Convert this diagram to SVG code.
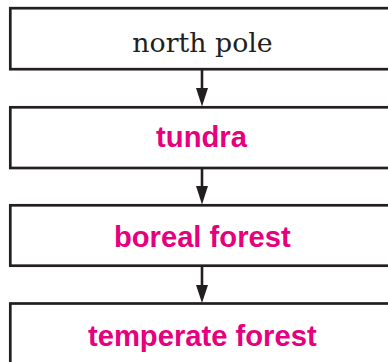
<svg xmlns="http://www.w3.org/2000/svg" width="388" height="362" viewBox="0 0 388 362">
  <defs>
    <style>
      .box { fill: #ffffff; stroke: #231f20; stroke-width: 2.7; }
      .conn { stroke: #231f20; stroke-width: 2.6; fill: none; }
      .head { fill: #231f20; stroke: none; }
      .serif { font-family: "DejaVu Serif", "Liberation Serif", serif; font-size: 26.8px; fill: #231f20; text-anchor: middle; }
      .pink { font-family: "Liberation Sans", Arial, sans-serif; font-weight: bold; font-size: 29.2px; fill: #e6007e; text-anchor: middle; }
    </style>
  </defs>
  <rect width="388" height="362" fill="#ffffff"/>
  <g id="connectors">
    <line class="conn" x1="202" y1="69" x2="202" y2="90"/>
    <polygon class="head" points="196,88 208,88 202,106.5"/>
    <line class="conn" x1="202" y1="168" x2="202" y2="188"/>
    <polygon class="head" points="196,186 208,186 202,204.5"/>
    <line class="conn" x1="202" y1="266" x2="202" y2="287"/>
    <polygon class="head" points="196,285 208,285 202,303"/>
  </g>
  <g id="node-north-pole">
    <rect class="box" x="10.3" y="8.2" width="400" height="61"/>
    <text class="serif" x="202.5" y="52.3">north pole</text>
  </g>
  <g id="node-tundra">
    <rect class="box" x="10.3" y="107.3" width="400" height="60.7"/>
    <text class="pink" x="201.5" y="146.7">tundra</text>
  </g>
  <g id="node-boreal-forest">
    <rect class="box" x="10.3" y="205.3" width="400" height="60.4"/>
    <text class="pink" x="202.3" y="246.7">boreal forest</text>
  </g>
  <g id="node-temperate-forest">
    <rect class="box" x="10.3" y="303.5" width="400" height="100"/>
    <text class="pink" x="202.3" y="345.7">temperate forest</text>
  </g>
</svg>
